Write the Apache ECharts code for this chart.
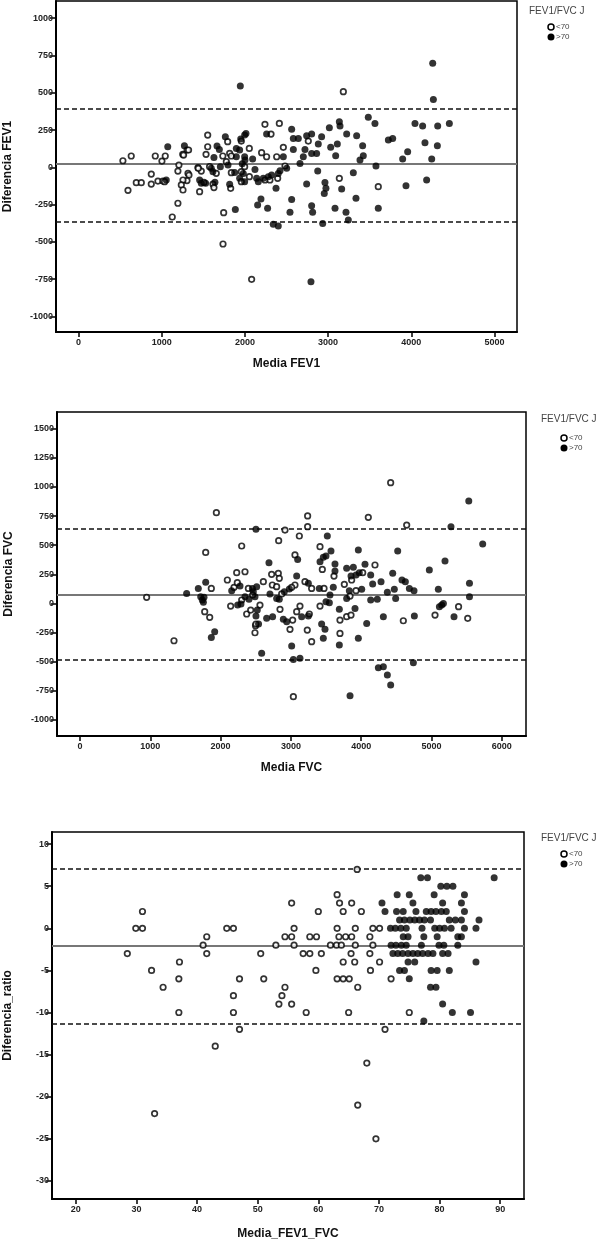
<!DOCTYPE html>
<html><head><meta charset="utf-8">
<script src="https://cdn.jsdelivr.net/npm/echarts@6/dist/echarts.min.js"></script>
<style>html,body{margin:0;padding:0;background:#fff}#c{width:606px;height:1241px}</style>
</head><body><div id="c"></div>
<script>
// ---------- Panel 1: FEV1 ----------
const fev1XTicks = [0,1000,2000,3000,4000,5000];
const fev1YTicks = [-1000,-750,-500,-250,0,250,500,750,1000];
const fev1Lines = {mean:24, upper:395, lower:-365};
const fev1Open = [[1553,216],[1305,116],[1253,87],[1553,138],[1793,172],[1957,176],[1817,94],[1837,76],[1533,87],[1735,76],[1777,38],[1576,4],[1656,-40],[1436,-2],[1476,-25],[1207,15],[1195,-25],[1316,-40],[1328,-52],[1304,-89],[1256,-85],[1236,-118],[1256,-152],[1456,-163],[1508,-101],[1616,-112],[1628,-136],[1829,-141],[1837,-36],[1957,-29],[1997,4],[1957,-96],[534,44],[634,76],[923,76],[1003,42],[1043,76],[875,-45],[695,-103],[755,-103],[595,-154],[875,-112],[955,-92],[1015,-92],[1035,-96],[1195,-241],[1127,-333],[1745,-304],[1737,-514],[1263,82],[1323,116],[1440,-7],[2054,-63],[3183,507],[3135,-74],[3603,-130],[2081,-751],[2414,294],[2241,288],[2314,223],[2762,176],[2462,134],[2382,71],[2261,71],[2201,98],[2053,127],[2482,9],[2241,-85],[2301,-85],[2394,-74]];
const fev1Filled = [[1945,545],[1765,205],[1073,138],[1273,145],[1665,143],[1693,120],[1997,216],[1897,127],[1937,116],[1897,71],[1997,71],[1628,65],[1797,15],[1705,4],[1596,-7],[1616,-29],[1456,-85],[1476,-107],[1528,-107],[1817,-114],[1877,-34],[1937,-74],[1997,-96],[1055,-85],[1885,-282],[1640,-100],[1950,190],[1968,24],[4257,697],[4265,455],[3483,335],[3563,294],[3135,306],[3143,277],[3015,265],[3223,223],[3343,212],[3415,145],[3423,78],[3383,49],[3575,9],[3303,-36],[3163,-146],[3335,-208],[3083,-275],[3215,-302],[3243,-353],[2935,-376],[3603,-275],[3724,183],[3776,194],[4044,294],[4136,277],[4317,277],[4457,294],[4164,165],[4313,145],[3956,105],[3896,55],[4245,55],[3936,-123],[4184,-85],[2794,-767],[2562,256],[2261,223],[2582,194],[2642,194],[2742,212],[2802,223],[2922,205],[3031,134],[3111,156],[3091,78],[2882,156],[2862,93],[2802,93],[2722,120],[2702,71],[2662,26],[2582,120],[2462,71],[2013,227],[2001,49],[2093,55],[2121,-14],[1981,-41],[2141,-74],[2161,-96],[2221,-74],[2281,-63],[2321,-52],[2401,-41],[2502,-7],[2422,-23],[2374,-141],[2875,-25],[2742,-112],[2962,-101],[2974,-141],[2954,-175],[2193,-213],[2153,-253],[2273,-275],[2562,-215],[2542,-302],[2802,-257],[2814,-302],[2341,-382],[2401,-394]];

// ---------- Panel 2: FVC ----------
const fvcXTicks = [0,1000,2000,3000,4000,5000,6000];
const fvcYTicks = [-1000,-750,-500,-250,0,250,500,750,1000,1250,1500];
const fvcLines = {mean:78, upper:637, lower:-480};
const fvcOpen = [[1940,779],[2300,493],[1788,438],[948,52],[1337,-321],[1868,129],[1774,-71],[1845,-120],[2096,201],[2143,-23],[2191,138],[2229,264],[2238,178],[2347,272],[2395,129],[2300,29],[2371,-91],[2428,-57],[2497,-191],[4419,1037],[3238,751],[4101,739],[3238,659],[4647,673],[2916,630],[3120,579],[2826,539],[3414,487],[3058,416],[3447,292],[4196,330],[4021,264],[3864,201],[3613,235],[3760,164],[3841,63],[3926,109],[3471,129],[3295,129],[3200,187],[3058,158],[3011,138],[2869,81],[2608,187],[2726,250],[2821,258],[2835,215],[2736,158],[2797,144],[2456,72],[2560,-14],[2503,-177],[2489,-252],[2845,-51],[3025,-143],[2987,-223],[3129,-23],[3082,-71],[3262,-91],[3233,-229],[3295,-329],[3414,-23],[3698,-143],[3698,-258],[3793,-114],[3855,-100],[4599,-149],[5050,-100],[3035,-801],[5515,-128],[5385,-28]];
const fvcFilled = [[1517,86],[1683,129],[1788,181],[1717,57],[1764,52],[1740,29],[1755,9],[1916,-243],[1868,-292],[2158,109],[2276,149],[2347,57],[2290,-6],[2404,35],[2452,129],[2243,-14],[2540,-177],[5277,659],[2503,636],[3518,579],[3570,450],[3959,459],[4519,450],[4969,287],[5192,364],[3096,378],[3414,358],[3461,396],[3499,407],[3627,338],[3627,278],[2688,350],[3793,301],[3888,310],[4054,336],[3855,235],[3926,244],[3973,264],[4135,244],[3603,138],[3831,109],[4007,121],[4163,166],[4282,187],[4448,258],[4580,201],[4628,187],[4685,129],[4751,109],[5097,121],[4372,95],[4471,121],[4490,43],[4135,29],[4229,35],[3793,43],[3556,72],[3404,129],[3248,172],[3082,235],[2978,124],[2906,101],[2797,43],[2835,35],[2702,81],[2513,144],[2465,101],[2489,58],[2522,-57],[2503,-109],[2584,-429],[2655,-128],[2740,-114],[2892,-137],[2940,-157],[3011,-366],[3035,-481],[3129,-472],[3153,-114],[3248,-108],[3437,-177],[3485,-223],[3461,-300],[3499,15],[3547,6],[3689,-51],[3689,-358],[3912,-43],[3959,-300],[4078,-172],[4315,-114],[4756,-108],[5112,-28],[5145,-14],[5169,0],[5320,-114],[4244,-552],[4315,-544],[4372,-615],[4419,-701],[4742,-509],[3841,-793],[5530,880],[5728,510],[5540,172],[5540,58]];

// ---------- Panel 3: ratio ----------
const ratioXTicks = [20,30,40,50,60,70,80,90];
const ratioYTicks = [-30,-25,-20,-15,-10,-5,0,5,10];
const ratioLines = {mean:-2.07, upper:7.13, lower:-11.28};
const ratioOpen = [[66.4,7],[63.1,4],[55.6,3],[63.5,3],[65.5,3],[31.0,2],[60.0,2],[64.1,2],[67.1,2],[29.9,0],[31.0,0],[44.9,0],[46.0,0],[56.0,0],[63.1,0],[66.1,0],[69.0,0],[70.1,0],[41.6,-1],[54.5,-1],[55.6,-1],[58.6,-1],[59.7,-1],[63.4,-1],[64.5,-1],[65.5,-1],[68.5,-1],[41.0,-2],[53.0,-2],[56.0,-2],[62.0,-2],[63.0,-2],[63.8,-2],[66.1,-2],[69.0,-2],[28.5,-3],[41.6,-3],[50.5,-3],[57.5,-3],[58.6,-3],[60.5,-3],[65.4,-3],[68.5,-3],[37.1,-4],[64.1,-4],[66.0,-4],[70.1,-4],[32.5,-5],[59.6,-5],[68.6,-5],[37.0,-6],[47.0,-6],[51.0,-6],[63.1,-6],[64.1,-6],[65.1,-6],[72.0,-6],[34.4,-7],[54.5,-7],[66.5,-7],[46.0,-8],[54.0,-8],[53.5,-9],[55.6,-9],[37.0,-10],[46.0,-10],[58.0,-10],[65.0,-10],[75.0,-10],[47.0,-12],[71.0,-12],[43.0,-14],[68.0,-16],[33.0,-22],[66.5,-21],[69.5,-25]];
const ratioFilled = [[76.9,6],[78.0,6],[89.0,6],[80.2,5],[81.2,5],[82.2,5],[73.0,4],[75.0,4],[79.1,4],[84.1,4],[70.5,3],[75.6,3],[80.5,3],[83.6,3],[71.0,2],[72.9,2],[74.0,2],[76.1,2],[77.8,2],[78.6,2],[79.4,2],[80.3,2],[81.1,2],[84.1,2],[73.4,1],[74.2,1],[75.1,1],[75.9,1],[76.7,1],[77.5,1],[78.5,1],[81.6,1],[82.6,1],[83.6,1],[86.5,1],[71.9,0],[72.7,0],[73.6,0],[74.5,0],[77.1,0],[79.2,0],[80.0,0],[80.8,0],[81.9,0],[84.1,0],[86.0,0],[74.0,-1],[74.8,-1],[77.4,-1],[79.6,-1],[83.0,-1],[83.6,-1],[72.0,-2],[72.8,-2],[73.7,-2],[74.5,-2],[77.0,-2],[79.9,-2],[80.7,-2],[83.0,-2],[72.3,-3],[73.1,-3],[73.9,-3],[74.8,-3],[75.6,-3],[76.4,-3],[77.2,-3],[78.1,-3],[78.9,-3],[80.5,-3],[81.4,-3],[74.8,-4],[75.9,-4],[86.0,-4],[73.4,-5],[74.2,-5],[78.6,-5],[79.6,-5],[81.6,-5],[75.0,-6],[78.5,-7],[79.4,-7],[80.5,-9],[82.1,-10],[85.1,-10],[77.4,-11]];

const legendTitle = 'FEV1/FVC J';
const legendLabels = ['<70', '>70'];

const FONT = '"Liberation Sans", Arial, sans-serif';
const panels = [
  {grid:{left:56, top:1, width:461, height:331}, x:[-270,5270], y:[-1104,1115], xt:fev1XTicks, yt:fev1YTicks, xname:'Media FEV1', yname:'Diferencia FEV1', xgap:26, ygap:42, open:fev1Open, filled:fev1Filled, lines:fev1Lines, leg:{tx:529, ty:6, mx:551, my:27}},
  {grid:{left:57, top:412, width:469, height:324}, x:[-327,6344], y:[-1139,1644], xt:fvcXTicks, yt:fvcYTicks, xname:'Media FVC', yname:'Diferencia FVC', xgap:26, ygap:42, open:fvcOpen, filled:fvcFilled, lines:fvcLines, leg:{tx:541, ty:414, mx:564, my:438}},
  {grid:{left:52, top:832, width:472, height:367}, x:[16.08,93.92], y:[-32.15,11.44], xt:ratioXTicks, yt:ratioYTicks, xname:'Media_FEV1_FVC', yname:'Diferencia_ratio', xgap:29, ygap:38, open:ratioOpen, filled:ratioFilled, lines:ratioLines, leg:{tx:541, ty:833, mx:564, my:854}}
];

const grids=[], xAxes=[], yAxes=[], series=[], graphics=[];
const plain = v => String(v);
panels.forEach((p,i)=>{
  grids.push(Object.assign({show:true, borderColor:'#000', borderWidth:1.5, backgroundColor:'#fff', containLabel:false, outerBoundsMode:'none'}, p.grid));
  const common = {
    type:'value', gridIndex:i, splitLine:{show:false},
    axisLine:{show:true, onZero:false, lineStyle:{color:'#000', width:2}},
    nameLocation:'middle',
    nameTextStyle:{fontSize:12, fontWeight:'bold', color:'#111', fontFamily:FONT}
  };
  xAxes.push(Object.assign({}, common, {
    min:p.x[0], max:p.x[1], name:p.xname, nameGap:p.xgap,
    axisTick:{show:true, customValues:p.xt, length:5, lineStyle:{color:'#000', width:1.5}},
    axisLabel:{customValues:p.xt, formatter:plain, fontSize:9, fontWeight:'bold', color:'#222', margin:6, fontFamily:FONT}
  }));
  yAxes.push(Object.assign({}, common, {
    min:p.y[0], max:p.y[1], name:p.yname, nameGap:p.ygap,
    axisTick:{show:true, customValues:p.yt, length:6, lineStyle:{color:'#000', width:1.5}},
    axisLabel:{customValues:p.yt, formatter:plain, fontSize:9, fontWeight:'bold', color:'#222', margin:3, fontFamily:FONT}
  }));
  series.push({
    type:'scatter', xAxisIndex:i, yAxisIndex:i, data:p.open, symbol:'circle', symbolSize:5.5,
    itemStyle:{color:'#fff', borderColor:'#000', borderWidth:1.7}, z:3
  });
  series.push({
    type:'scatter', xAxisIndex:i, yAxisIndex:i, data:p.filled, symbol:'circle', symbolSize:7,
    itemStyle:{color:'#000'}, z:4,
    markLine:{silent:true, symbol:'none', label:{show:false}, animation:false, z:2,
      data:[
        {yAxis:p.lines.mean, lineStyle:{color:'#777', width:2, type:'solid'}},
        {yAxis:p.lines.upper, lineStyle:{color:'#111', width:1.5, type:[5,3]}},
        {yAxis:p.lines.lower, lineStyle:{color:'#111', width:1.5, type:[5,3]}}
      ]}
  });
  const L = p.leg;
  graphics.push({type:'text', x:L.tx, y:L.ty, style:{text:legendTitle, fontSize:10, fill:'#444', fontFamily:FONT}});
  graphics.push({type:'circle', shape:{cx:L.mx, cy:L.my, r:3}, style:{fill:'#fff', stroke:'#000', lineWidth:1.5}});
  graphics.push({type:'circle', shape:{cx:L.mx, cy:L.my+10, r:3.5}, style:{fill:'#000'}});
  graphics.push({type:'text', x:L.mx+5, y:L.my-4, style:{text:legendLabels[0], fontSize:8, fill:'#444', fontFamily:FONT}});
  graphics.push({type:'text', x:L.mx+5, y:L.my+6, style:{text:legendLabels[1], fontSize:8, fill:'#444', fontFamily:FONT}});
});

const chart = echarts.init(document.getElementById('c'), null, {renderer:'canvas'});
chart.setOption({
  animation:false, backgroundColor:'#fff',
  grid:grids, xAxis:xAxes, yAxis:yAxes, series:series, graphic:graphics
});
</script></body></html>
